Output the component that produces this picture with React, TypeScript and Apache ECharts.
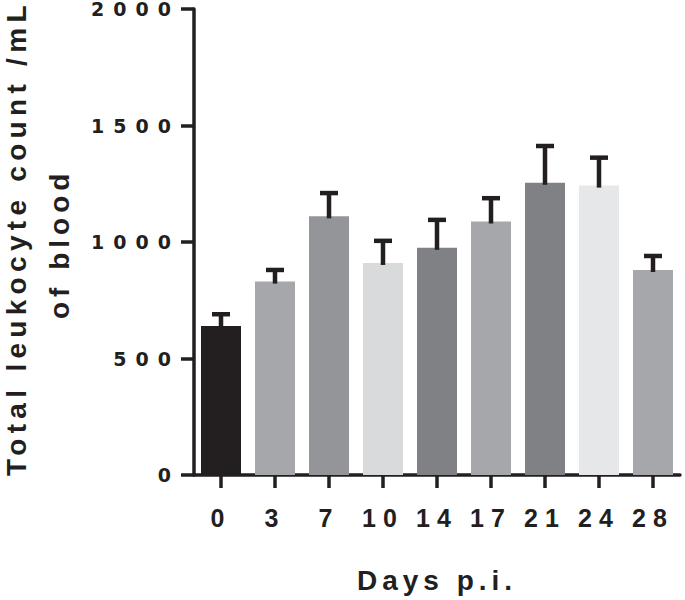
import React, { useEffect, useRef } from 'react';
import * as echarts from 'echarts';

const days = ['0', '3', '7', '10', '14', '17', '21', '24', '28'];
const means = [640, 830, 1110, 910, 975, 1088, 1254, 1242, 880];
const sems = [50, 50, 100, 95, 120, 100, 158, 120, 60];
const barColors = ['#231f20', '#a6a7aa', '#939598', '#d9dadc', '#808184', '#a6a7aa', '#808184', '#e6e7e8', '#a6a7aa'];
const yMin = 0;
const yMax = 2000;
const yStep = 500;
const yTitle1 = 'Total leukocyte count /mL';
const yTitle2 = 'of blood';
const xTitle = 'Days p.i.';

const INK = '#231f20';
const FONT = '"Liberation Sans", Arial, sans-serif';
const FONT_T1 = '"Liberation Sans", Arial, Helvetica, sans-serif';
const FONT_Y = '"DejaVu Sans", sans-serif';

export default function App() {
  const ref = useRef<HTMLDivElement>(null);
  useEffect(() => {
    if (!ref.current) return;
    const chart = echarts.init(ref.current, null, { renderer: 'svg' });
    const option: any = {
      animation: false,
      backgroundColor: '#ffffff',
      grid: { left: 194, right: 5, top: 9, bottom: 125, outerBoundsMode: 'none' },
      xAxis: {
        type: 'category',
        data: days,
        axisLine: { show: true, lineStyle: { color: INK, width: 3.5 } },
        axisTick: { show: true, alignWithLabel: true, length: 13, lineStyle: { color: INK, width: 3.5 } },
        axisLabel: { interval: 0, margin: 30, fontSize: 25, fontWeight: 'bold', fontFamily: FONT, color: INK },
        name: xTitle,
        nameLocation: 'middle',
        nameGap: 91,
        nameTextStyle: { fontSize: 28, fontWeight: 'bold', fontFamily: FONT, color: INK },
      },
      yAxis: {
        type: 'value',
        min: yMin,
        max: yMax,
        interval: yStep,
        axisLine: { show: true, lineStyle: { color: INK, width: 3.5 } },
        axisTick: { show: true, length: 13, lineStyle: { color: INK, width: 3.5 } },
        axisLabel: {
          margin: 14,
          fontSize: 19,
          fontWeight: 'bold',
          fontFamily: FONT_Y,
          color: INK,
          lineHeight: 12,
          padding: [5, 0, 0, 0],
          formatter: (v: number) => String(v),
        },
        splitLine: { show: false },
      },
      graphic: [
        {
          type: 'text',
          x: 16,
          y: 476,
          rotation: Math.PI / 2,
          style: { text: yTitle1, fontSize: 28, fontWeight: 'bold', fontFamily: FONT_T1, fill: INK, textAlign: 'left', textVerticalAlign: 'middle' },
        },
        {
          type: 'text',
          x: 59,
          y: 319,
          rotation: Math.PI / 2,
          style: { text: yTitle2, fontSize: 28, fontWeight: 'bold', fontFamily: FONT, fill: INK, textAlign: 'left', textVerticalAlign: 'middle' },
        },
      ],
      series: [
        {
          type: 'bar',
          barWidth: 40,
          data: means.map((v, i) => ({ value: v, itemStyle: { color: barColors[i] } })),
          z: 2,
        },
        {
          type: 'custom',
          z: 5,
          data: means.map((v, i) => [i, v, sems[i]]),
          encode: { x: 0, y: 1 },
          renderItem: (params: any, api: any) => {
            const i = api.value(0);
            const m = api.value(1);
            const e = api.value(2);
            const base = api.coord([i, m]);
            const top = api.coord([i, m + e]);
            const hw = 9;
            return {
              type: 'group',
              children: [
                { type: 'line', shape: { x1: base[0], y1: base[1] + 2, x2: top[0], y2: top[1] }, style: { stroke: INK, lineWidth: 4.5 } },
                { type: 'line', shape: { x1: top[0] - hw, y1: top[1], x2: top[0] + hw, y2: top[1] }, style: { stroke: INK, lineWidth: 4.5 } },
              ],
            };
          },
        },
      ],
    };
    chart.setOption(option);
    return () => chart.dispose();
  }, []);
  return (
    <>
      <style>{`
        #chartbox text[style*="19px"] { letter-spacing: 9px; }
        #chartbox text[style*="25px"] { letter-spacing: 7px; }
        #chartbox text[style*="28px"] { letter-spacing: 5px; }
        #chartbox text[style*="28px"][style*="Helvetica"] { letter-spacing: 5.3px; }
      `}</style>
      <div
        id="chartbox"
        ref={ref}
        style={{ position: 'fixed', left: 0, top: 0, width: 685, height: 600, background: '#fff' }}
      />
    </>
  );
}
